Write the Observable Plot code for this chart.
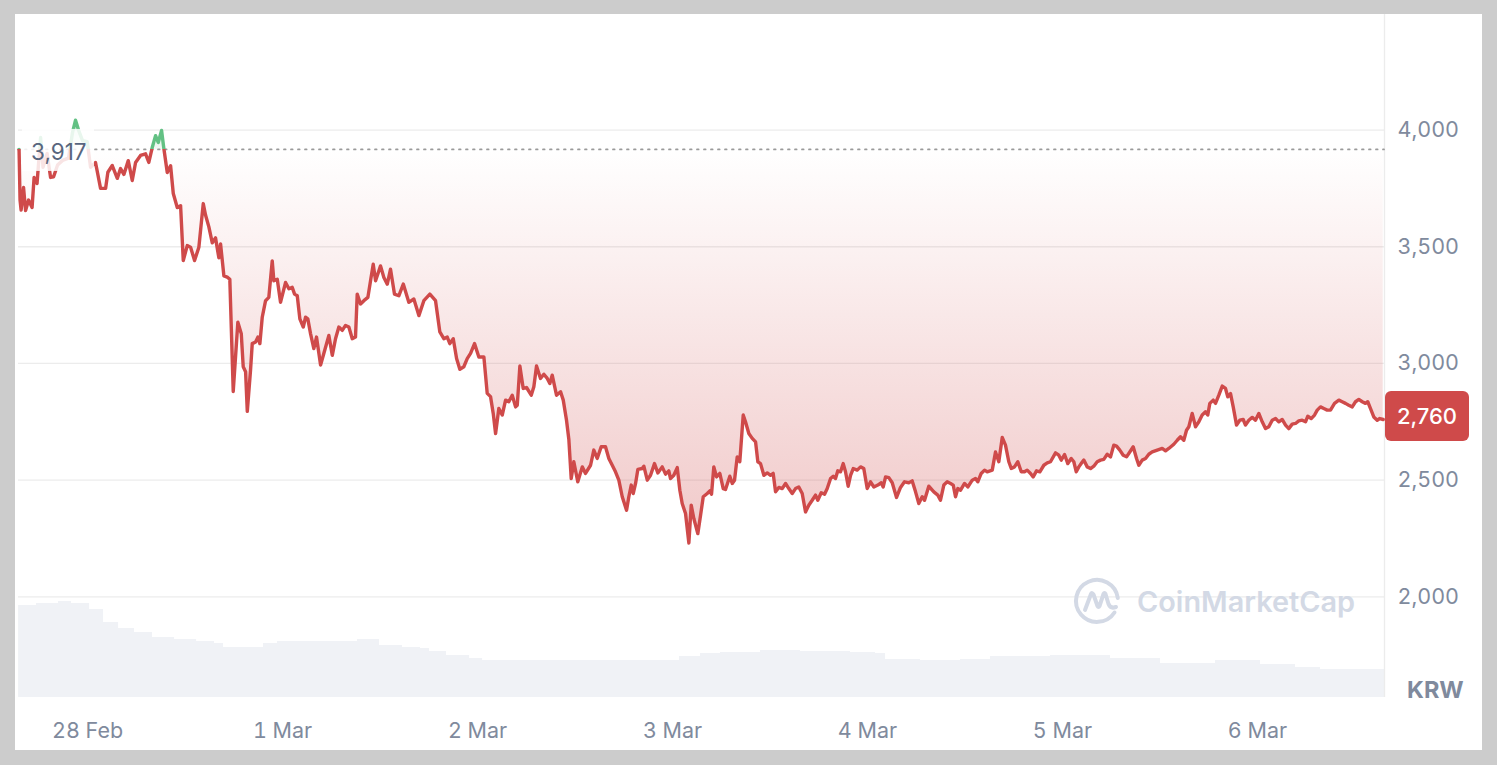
<!DOCTYPE html>
<html><head><meta charset="utf-8">
<script src="https://cdn.jsdelivr.net/npm/d3@7"></script>
<script src="https://cdn.jsdelivr.net/npm/@observablehq/plot@0.6"></script>
<style>
html,body{margin:0;padding:0;background:#cccccc;}
body{width:1497px;height:765px;overflow:hidden;position:relative;font-family:Inter, sans-serif;}
#card{position:absolute;left:15px;top:14px;width:1467px;height:736px;background:#fff;overflow:hidden;}
#card svg{position:absolute;left:0;top:0;}
</style></head><body><div id="card"></div>
<script>
// hours after 28 Feb 00:00 (UTC)
const hours = [
-8.43,-8.31,-8.18,-7.88,-7.63,-7.26,-6.83,-6.58,-6.22,-5.78,
-5.48,-4.98,-4.55,-4.18,-3.69,-3.08,-2.34,-1.85,-1.48,-1.11,
-0.62,-0.04,0.37,0.98,1.60,2.22,2.50,3.04,3.66,4.06,
4.47,5.01,5.50,5.91,6.52,7.14,7.54,7.96,8.37,8.70,
9.11,9.39,9.81,10.22,10.55,11.04,11.45,11.78,12.27,12.68,
13.17,13.70,14.24,14.52,14.93,15.35,15.75,16.16,16.37,16.78,
17.19,17.51,17.93,18.50,18.92,19.16,19.45,19.66,20.06,20.27,
20.68,20.96,21.21,21.50,21.91,22.31,22.73,22.93,23.35,23.75,
24.37,24.78,25.19,25.48,25.81,26.13,26.55,26.83,27.11,27.45,
27.85,28.18,28.68,29.08,29.70,30.12,30.52,30.93,31.35,31.75,
32.16,32.58,32.98,33.19,33.60,34.01,34.50,34.83,35.16,35.45,
36.06,36.47,36.89,37.29,37.78,38.31,38.86,39.54,40.16,40.78,
41.39,42.13,42.83,43.36,43.85,44.27,44.59,45.01,45.42,45.82,
46.31,46.73,47.14,47.63,48.16,48.78,49.19,49.60,49.93,50.22,
50.62,51.04,51.45,51.85,52.27,52.68,52.89,53.21,53.62,54.03,
54.61,54.93,55.26,55.75,56.16,56.58,56.90,57.19,57.72,58.22,
58.55,58.95,59.24,59.53,59.85,60.34,60.89,61.29,61.91,62.31,
62.73,63.22,63.75,64.16,64.58,64.98,65.39,65.81,66.34,66.62,
66.92,67.16,67.45,67.73,68.27,68.47,68.89,69.29,69.78,70.19,
70.73,71.14,71.54,71.75,72.16,72.58,72.90,73.19,73.60,74.01,
74.30,74.62,75.11,75.45,75.78,76.27,76.59,76.80,77.08,77.42,
77.82,78.24,78.52,79.05,79.35,79.63,79.96,80.28,80.70,80.98,
81.39,81.81,82.22,82.50,82.83,83.24,83.66,84.06,84.39,84.68,
85.08,85.50,85.91,86.31,86.73,87.14,87.54,87.96,88.37,88.77,
89.19,89.60,89.88,90.30,90.71,91.04,91.45,91.78,92.06,92.34,
92.68,93.01,93.29,93.62,93.91,94.24,94.73,95.14,95.54,95.96,
96.37,96.78,97.27,97.69,97.93,98.22,98.62,99.04,99.57,100.06,
100.55,101.08,101.50,101.91,102.31,102.73,103.02,103.54,104.16,104.65,
104.98,105.39,105.81,106.22,106.55,106.83,107.11,107.45,107.94,108.34,
108.89,109.29,109.57,109.99,110.40,110.73,111.35,111.75,112.16,112.58,
112.98,113.39,113.69,114.09,114.50,114.92,115.32,115.65,116.06,116.39,
116.80,117.21,117.70,118.12,118.52,119.14,119.54,119.84,120.25,120.65,
121.07,121.39,121.69,122.01,122.30,122.62,123.04,123.45,123.85,124.27,
124.68,125.08,125.50,125.91,126.31,126.65,127.05,127.47,127.88,128.28,
128.70,129.11,129.39,129.81,130.22,130.62,131.04,131.66,132.27,132.68,
133.08,133.70,134.12,134.52,134.93,135.26,135.55,135.96,136.37,136.78,
137.19,137.60,137.88,138.13,138.55,138.83,139.24,139.66,140.06,140.34,
140.68,141.01,141.42,141.82,142.24,142.52,142.93,143.35,143.75,144.16,
144.58,144.98,145.39,145.81,146.22,146.62,147.04,147.45,147.85,148.27,
148.68,149.08,149.50,149.91,150.19,150.61,151.02,151.35,151.75,152.16,
152.58,152.98,153.48,154.01,154.42,154.83,155.23,155.66,156.06,156.47,
156.89,157.29,157.57,157.91,158.31,158.73,159.05,159.47];

// price in KRW
const price = [
3917,3700,3657,3754,3655,3700,3668,3797,3771,3968,
3840,3900,3797,3800,3850,3870,3880,3990,4042,4000,
3955,3950,3840,3861,3750,3750,3819,3848,3793,3835,
3810,3869,3784,3861,3891,3898,3861,3925,3976,3947,
3998,3921,3818,3847,3728,3668,3676,3441,3505,3498,
3441,3498,3685,3636,3585,3517,3538,3453,3512,3375,
3370,3361,2880,3177,3127,2986,2965,2795,2972,3085,
3092,3113,3085,3198,3269,3283,3439,3354,3361,3262,
3347,3320,3326,3297,3290,3191,3156,3198,3191,3127,
3064,3113,2993,3043,3120,3035,3106,3156,3142,3163,
3156,3106,3113,3297,3255,3269,3283,3354,3425,3354,
3418,3368,3340,3404,3297,3290,3340,3262,3276,3205,
3269,3297,3269,3135,3106,3113,3085,3106,3021,2975,
2986,3021,3043,3085,3028,3028,2872,2858,2786,2700,
2807,2779,2843,2836,2864,2814,2821,2989,2893,2897,
2864,2900,2989,2936,2954,2936,2914,2950,2864,2879,
2843,2757,2674,2507,2579,2493,2557,2529,2564,2629,
2593,2643,2643,2593,2564,2536,2500,2429,2371,2429,
2479,2443,2486,2546,2550,2560,2500,2521,2571,2531,
2557,2526,2540,2507,2521,2554,2457,2400,2357,2231,
2393,2336,2271,2350,2429,2443,2454,2440,2557,2514,
2529,2464,2460,2517,2486,2500,2600,2579,2779,2750,
2700,2679,2664,2579,2571,2521,2531,2521,2529,2450,
2469,2464,2486,2464,2443,2464,2471,2443,2364,2393,
2414,2436,2414,2446,2440,2464,2507,2517,2507,2540,
2536,2571,2536,2474,2521,2550,2543,2557,2550,2464,
2493,2471,2479,2489,2471,2514,2511,2489,2426,2469,
2493,2489,2497,2450,2400,2429,2414,2474,2450,2436,
2414,2479,2493,2486,2479,2429,2464,2457,2486,2471,
2500,2507,2493,2529,2543,2536,2543,2621,2579,2683,
2650,2579,2550,2557,2579,2536,2536,2543,2529,2514,
2540,2536,2564,2574,2579,2617,2607,2586,2610,2571,
2593,2579,2536,2557,2571,2586,2557,2550,2560,2579,
2586,2589,2611,2600,2650,2646,2629,2607,2600,2621,
2643,2593,2564,2586,2593,2611,2621,2629,2636,2626,
2636,2654,2671,2686,2671,2714,2729,2786,2729,2750,
2779,2793,2779,2829,2843,2829,2864,2903,2893,2857,
2871,2814,2736,2757,2760,2736,2757,2769,2757,2786,
2750,2721,2729,2757,2764,2750,2760,2736,2721,2740,
2743,2754,2757,2750,2774,2764,2779,2800,2814,2807,
2800,2800,2829,2843,2836,2829,2821,2814,2836,2846,
2836,2829,2836,2807,2771,2757,2764,2760];

// volume (relative units), hours after 28 Feb 00:00
const volHours = [-8.49,-6.28,-3.57,-1.97,0.25,1.97,3.82,5.78,8.00,10.71,13.42,15.63,16.74,19.45,21.66,23.38,33.23,35.94,38.77,40.98,42.09,44.18,47.02,48.62,57.97,71.75,72.86,75.45,77.91,82.83,87.75,93.91,96.98,98.22,102.52,107.45,111.14,118.52,124.68,125.91,130.83,132.06,137.85,138.83,143.14,144.37,148.06,148.68,150.89,151.75,159.63];
const volume = [92,94,96,94,88,75,69,65,60,58,56,54,50,50,54,56,58,52,50,49,46,42,39,37,37,37,41,44,45,47,46,45,44,38,37,38,41,42,42,39,39,34,34,37,37,33,33,30,30,28,28];

const openPrice = 3917;
const yTicks = [2000, 2500, 3000, 3500, 4000];
const dayTickHours = [0, 24, 48, 72, 96, 120, 144];
const xRangeHours = [-8.5, 159.63];
const yDomain = [1569, 4495];
const currency = "KRW";

const t0 = Date.UTC(2025, 1, 28);
const toDate = h => new Date(t0 + h * 3600e3);
const data = hours.map((h, i) => ({date: toDate(h), price: price[i]}));
const vol = volHours.map((h, i) => ({date: toDate(h), volume: volume[i]}));
const xDomain = xRangeHours.map(toDate);
const fmt = d3.format(",");

const RED = "#cf4a4a", GREEN = "#63c184", GRAY = "#808a9d";
const W = 1467, H = 736, mL = 3, mR = 98, mT = 0, mB = 53;
const lastPrice = price[price.length - 1];
const minPrice = d3.min(price), maxPrice = d3.max(price);

const volPlot = Plot.plot({
  width: W, height: H, marginLeft: mL, marginRight: mR, marginTop: 583, marginBottom: mB,
  style: {background: "transparent"},
  x: {type: "utc", domain: xDomain, axis: null},
  y: {domain: [0, 100], axis: null},
  marks: [
    Plot.areaY(vol, {x: "date", y: "volume", curve: "step-after", fill: "#f0f2f6"})
  ]
});

function dimsOf(dims) {
  return {
    width: dims && dims.width != null ? dims.width : W,
    height: dims && dims.height != null ? dims.height : H,
    marginLeft: dims && dims.marginLeft != null ? dims.marginLeft : mL,
    marginRight: dims && dims.marginRight != null ? dims.marginRight : mR,
    marginTop: dims && dims.marginTop != null ? dims.marginTop : mT,
    marginBottom: dims && dims.marginBottom != null ? dims.marginBottom : mB
  };
}
function yScaleOf(scales, d) {
  if (scales && typeof scales.y === "function") return scales.y;
  return d3.scaleLinear().domain(yDomain).range([d.height - d.marginBottom, d.marginTop]);
}

const defsMark = (index, scales, values, dims) => {
  const d = dimsOf(dims);
  const y = yScaleOf(scales, d);
  const yb = y(openPrice);
  const defs = d3.create("svg:defs");
  const r = defs.append("linearGradient").attr("id", "cmcRed").attr("gradientUnits", "userSpaceOnUse")
    .attr("x1", 0).attr("x2", 0).attr("y1", yb).attr("y2", y(minPrice));
  r.append("stop").attr("offset", 0).attr("stop-color", RED).attr("stop-opacity", 0.0);
  r.append("stop").attr("offset", 1).attr("stop-color", RED).attr("stop-opacity", 0.3);
  const g = defs.append("linearGradient").attr("id", "cmcGreen").attr("gradientUnits", "userSpaceOnUse")
    .attr("x1", 0).attr("x2", 0).attr("y1", y(maxPrice)).attr("y2", yb);
  g.append("stop").attr("offset", 0).attr("stop-color", GREEN).attr("stop-opacity", 0.35);
  g.append("stop").attr("offset", 1).attr("stop-color", GREEN).attr("stop-opacity", 0.08);
  const off = yb / d.height;
  const l = defs.append("linearGradient").attr("id", "cmcLine").attr("gradientUnits", "userSpaceOnUse")
    .attr("x1", 0).attr("x2", 0).attr("y1", 0).attr("y2", d.height);
  l.append("stop").attr("offset", off).attr("stop-color", GREEN);
  l.append("stop").attr("offset", off).attr("stop-color", RED);
  return defs.node();
};

const watermarkMark = (index, scales, values, dims) => {
  const d = dimsOf(dims);
  const right = d.width - d.marginRight, bottom = d.height - d.marginBottom;
  const g = d3.create("svg:g").attr("fill", "none").attr("stroke", "#d3d9e5");
  const logo = g.append("g").attr("transform", `translate(${right - 287},${bottom - 96})`)
    .attr("stroke-width", 4).attr("stroke-linecap", "round").attr("stroke-linejoin", "round");
  logo.append("path").attr("d", "M 17.5 11.5 A 21 21 0 1 1 20.8 -3");
  logo.append("path").attr("d", "M -12 9 L -6 -7 Q -5 -9 -3.5 -6.5 L 0.5 5 Q 1.5 7 2.5 5 L 6.5 -7 Q 7.5 -9 8.5 -7 L 11.5 3 Q 13.5 8 19 6");
  g.append("text").attr("x", right - 247).attr("y", bottom - 85).attr("stroke", "none").attr("fill", "#d3d9e5")
    .attr("text-anchor", "start")
    .attr("font-size", 28).attr("font-weight", 600).attr("textLength", 218).attr("lengthAdjust", "spacingAndGlyphs")
    .text("CoinMarketCap");
  return g.node();
};

const openLabelMark = (index, scales, values, dims) => {
  const d = dimsOf(dims);
  const y = yScaleOf(scales, d);
  const yb = y(openPrice);
  const g = d3.create("svg:g");
  g.append("rect").attr("x", d.marginLeft + 4).attr("y", yb - 20).attr("width", 72).attr("height", 42)
    .attr("fill", "white").attr("fill-opacity", 0.85);
  g.append("text").attr("x", d.marginLeft + 13).attr("y", yb + 3).attr("dy", "0.35em")
    .attr("text-anchor", "start")
    .attr("font-size", 22.5).attr("fill", "#58667e").text(fmt(openPrice));
  return g.node();
};

const tagMark = (index, scales, values, dims) => {
  const d = dimsOf(dims);
  const y = yScaleOf(scales, d);
  const yl = y(lastPrice) - 3;
  const x0 = d.width - d.marginRight + 1;
  const g = d3.create("svg:g");
  g.append("rect").attr("x", x0).attr("y", yl - 25).attr("width", 84).attr("height", 50).attr("rx", 6).attr("fill", RED);
  g.append("text").attr("x", x0 + 42).attr("y", yl).attr("dy", "0.36em").attr("text-anchor", "middle")
    .attr("font-size", 22).attr("font-weight", 500).attr("fill", "white").text(fmt(lastPrice));
  g.append("text").attr("x", x0 + 22).attr("y", d.height - d.marginBottom - 7).attr("dy", "0.36em")
    .attr("text-anchor", "start")
    .attr("font-size", 23.5).attr("font-weight", 700).attr("fill", GRAY).text(currency);
  return g.node();
};

const main = Plot.plot({
  width: W, height: H, marginLeft: mL, marginRight: mR, marginTop: mT, marginBottom: mB,
  style: {background: "transparent", fontFamily: "Inter, sans-serif", fontSize: "21.5px", color: GRAY},
  x: {type: "utc", domain: xDomain, ticks: dayTickHours.map(toDate), tickFormat: d3.utcFormat("%-d %b"),
      tickSize: 0, tickPadding: 25, label: null},
  y: {domain: yDomain, axis: "right", ticks: yTicks, tickFormat: fmt, tickSize: 0, tickPadding: 13, label: null},
  marks: [
    defsMark,
    Plot.ruleY(yTicks, {stroke: "#ececec", strokeWidth: 1.3}),
    Plot.ruleX([xDomain[1]], {stroke: "#ececec", strokeWidth: 1.3}),
    watermarkMark,
    Plot.areaY(data, {x: "date", y1: () => openPrice, y2: d => Math.min(d.price, openPrice), fill: "url(#cmcRed)"}),
    Plot.areaY(data, {x: "date", y1: () => openPrice, y2: d => Math.max(d.price, openPrice), fill: "url(#cmcGreen)"}),
    Plot.ruleY([openPrice], {stroke: "#9a9a9a", strokeWidth: 1.8, strokeDasharray: "1.6,5.4", strokeLinecap: "round"}),
    Plot.line(data, {x: "date", y: "price", stroke: "url(#cmcLine)", strokeWidth: 3.4, strokeLinejoin: "round", strokeLinecap: "round"}),
    openLabelMark,
    tagMark
  ]
});

const card = document.getElementById("card");
card.appendChild(volPlot);
card.appendChild(main);
</script>
</body></html>
